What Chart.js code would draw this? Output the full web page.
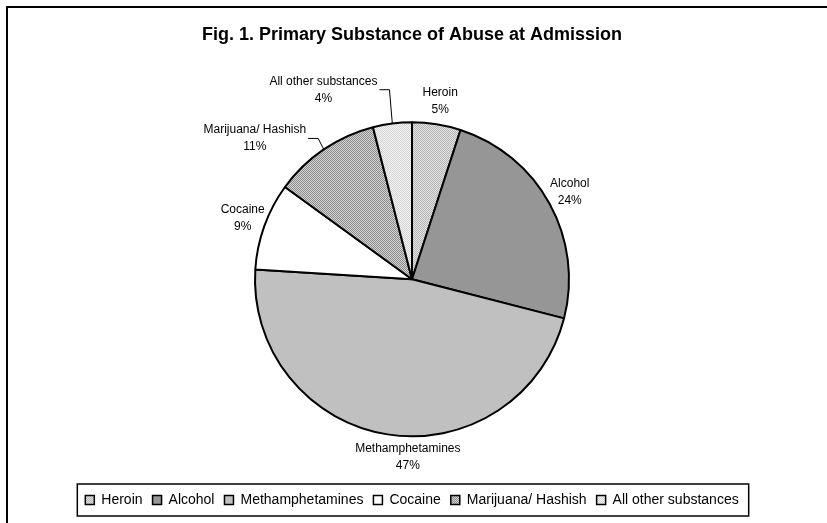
<!DOCTYPE html>
<html>
<head>
<meta charset="utf-8">
<script src="https://cdn.jsdelivr.net/npm/chart.js@4.4.0/dist/chart.umd.min.js"></script>
<style>
  html, body { margin: 0; padding: 0; background: #fff; overflow: hidden; }
  #wrap { position: relative; width: 827px; height: 523px; overflow: hidden; }
  #frame { position: absolute; left: 6px; top: 6px; width: 900px; height: 600px; border: 2px solid #000; }
  #c { position: absolute; left: 0; top: 0; }
</style>
</head>
<body>
<div id="wrap">
  <div id="frame"></div>
  <canvas id="c" width="827" height="523"></canvas>
</div>
<script>
/* data */
const substances = ['Heroin', 'Alcohol', 'Methamphetamines', 'Cocaine', 'Marijuana/ Hashish', 'All other substances'];
const shares = [5, 24, 47, 9, 11, 4];

/* label placement (style only): extra shift for some labels, leader lines */
const labelShift = [[0, 0], [0, 0], [24, 0], [0, 0], [-56, 8], [-66, -11]];
const leader = [false, false, false, false, true, true];

function makePattern(a, b) {
    const t = document.createElement('canvas');
    t.width = 2; t.height = 2;
    const g = t.getContext('2d');
    g.fillStyle = a; g.fillRect(0, 0, 2, 2);
    g.fillStyle = b; g.fillRect(0, 0, 1, 1); g.fillRect(1, 1, 1, 1);
    return g.createPattern(t, 'repeat');
}

const fills = [
    makePattern('#e4e4e4', '#b4b4b4'),
    '#969696',
    '#c0c0c0',
    '#ffffff',
    makePattern('#d4d4d4', '#8c8c8c'),
    makePattern('#f6f6f6', '#d2d2d2'),
];

const FONT = 'Arial, "Liberation Sans", sans-serif';

/* outside labels with leader lines */
const sliceLabels = {
    id: 'sliceLabels',
    afterDatasetsDraw(chart) {
        const ctx = chart.ctx;
        const arcs = chart.getDatasetMeta(0).data;
        ctx.save();
        ctx.font = '12px ' + FONT;
        ctx.fillStyle = '#000';
        ctx.textAlign = 'center';
        ctx.textBaseline = 'middle';
        arcs.forEach((arc, i) => {
            const mid = (arc.startAngle + arc.endAngle) / 2;
            const r = arc.outerRadius;
            const d = r + 23;
            const lx = arc.x + Math.cos(mid) * d + labelShift[i][0];
            const ly = arc.y + Math.sin(mid) * d + labelShift[i][1];
            const line1 = substances[i];
            ctx.fillText(line1, lx, ly - 8.5);
            ctx.fillText(shares[i] + '%', lx, ly + 8.5);
            if (leader[i]) {
                const w = ctx.measureText(line1).width;
                const sx = lx + w / 2 + 2;
                ctx.beginPath();
                ctx.strokeStyle = '#000';
                ctx.lineWidth = 1;
                ctx.moveTo(sx, ly);
                ctx.lineTo(sx + 10, ly);
                ctx.lineTo(arc.x + Math.cos(mid) * r, arc.y + Math.sin(mid) * r);
                ctx.stroke();
            }
        });
        ctx.restore();
    }
};

/* box around the legend */
const legendBox = {
    id: 'legendBox',
    afterDraw(chart) {
        const boxes = chart.legend.legendHitBoxes;
        if (!boxes.length) return;
        const l = Math.min(...boxes.map(b => b.left)) - 8;
        const r = Math.max(...boxes.map(b => b.left + b.width)) + 10;
        const t = Math.min(...boxes.map(b => b.top)) - 9;
        const b = Math.max(...boxes.map(b => b.top + b.height)) + 9;
        const ctx = chart.ctx;
        ctx.save();
        ctx.strokeStyle = '#000';
        ctx.lineWidth = 1.5;
        ctx.strokeRect(l, t, r - l, b - t);
        ctx.restore();
    }
};

new Chart(document.getElementById('c'), {
    type: 'pie',
    data: {
        labels: substances,
        datasets: [{
            data: shares,
            backgroundColor: fills,
            borderColor: '#000',
            borderWidth: 2,
            radius: 157,
        }],
    },
    options: {
        responsive: false,
        animation: false,
        layout: { padding: { left: 0, right: 3, top: 0, bottom: 6 } },
        plugins: {
            title: {
                display: true,
                text: 'Fig. 1. Primary Substance of Abuse at Admission',
                color: '#000',
                font: { family: FONT, size: 18, weight: 'bold' },
                padding: { top: 24, bottom: 30 },
            },
            legend: {
                position: 'bottom',
                labels: {
                    color: '#000',
                    font: { family: FONT, size: 14 },
                    boxWidth: 9,
                    boxHeight: 9,
                    padding: 10,
                    generateLabels(chart) {
                        return substances.map((s, i) => ({
                            text: s,
                            fillStyle: fills[i],
                            strokeStyle: '#000',
                            lineWidth: 1.5,
                            index: i,
                        }));
                    },
                },
            },
            tooltip: { enabled: false },
        },
    },
    plugins: [sliceLabels, legendBox],
});
</script>
</body>
</html>
